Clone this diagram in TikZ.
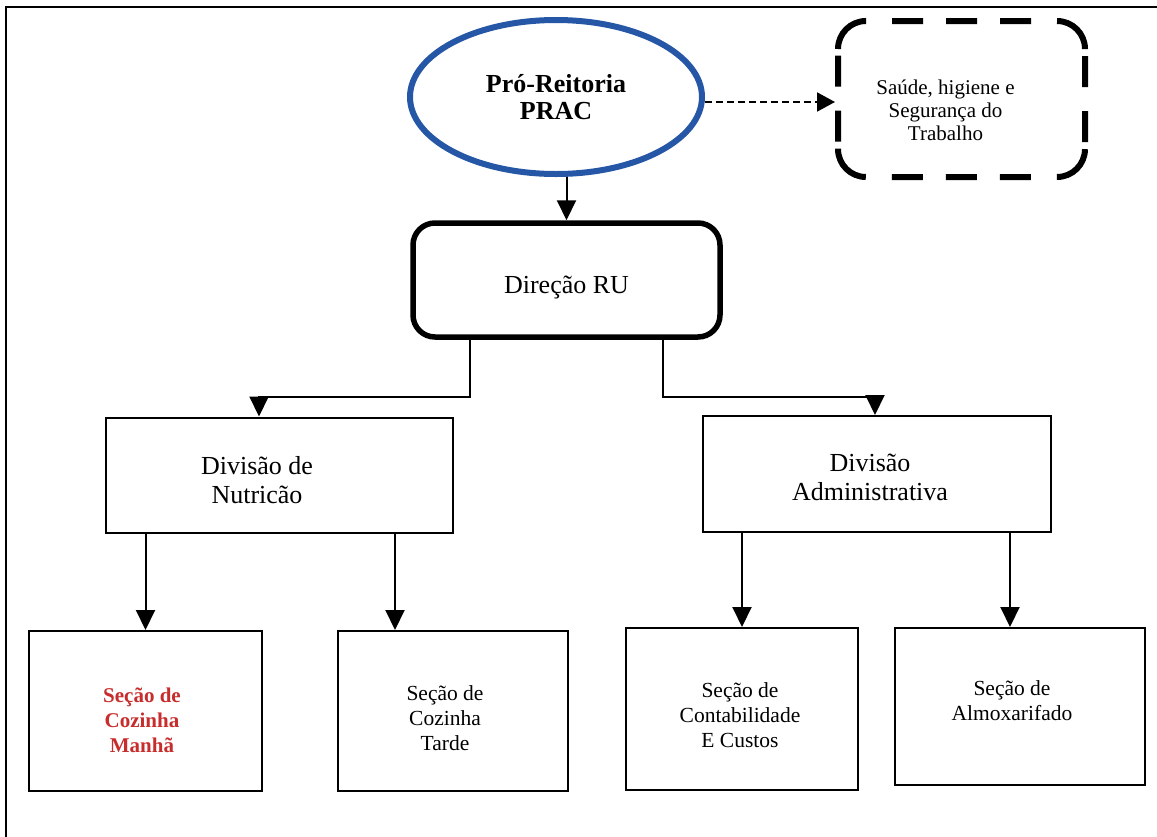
\documentclass[tikz,border=0pt]{standalone}
\usepackage{fontspec}
\setmainfont{Liberation Serif}
\usetikzlibrary{arrows.meta,shapes.geometric}
\definecolor{prablue}{RGB}{38,86,166}
\definecolor{secred}{RGB}{200,45,45}
\begin{document}
\begin{tikzpicture}[x=1pt,y=-1pt,
  box/.style={draw, line width=2pt, inner sep=0pt},
  arr/.style={line width=2pt, -{Triangle[width=19pt,length=20pt]}},
  dasharr/.style={line width=2pt, dash pattern=on 7pt off 4pt, -{Triangle[width=19pt,length=18pt]}},
  dashbox/.style={line width=6pt,
    dash pattern=on 44pt off 26pt on 31pt off 23pt on 31pt off 23pt on 31pt off 26pt
                 on 44pt off 7pt on 31pt off 24pt on 31pt off 7pt},
  lbl/.style={align=center, inner sep=0pt},
  big/.style={font=\fontsize{26}{29}\selectfont},
  small/.style={font=\fontsize{21.5}{25}\selectfont},
]
\useasboundingbox (0,0) rectangle (1157,836);

% page frame (only its left and top edges fall on the page)
\draw[line width=2.5pt] (6,860) -- (6,7) -- (1180,7);

% top level
\node[ellipse, draw=prablue, line width=6pt, minimum width=292pt, minimum height=154pt,
      inner sep=0pt, align=center, font=\bfseries\fontsize{26}{27}\selectfont]
      (pra) at (556,97) {Pró-Reitoria\\PRAC};

\node[minimum width=247pt, minimum height=156pt, inner sep=0pt, outer sep=0pt,
      label={[lbl, font=\fontsize{21}{23}\selectfont, xshift=-16pt, yshift=-11pt]center:{Saúde, higiene e\\Segurança do\\Trabalho}}]
      (saude) at (961.5,99) {};
% dashed border: solid corner arcs, dashed straight sides
\draw[dashbox] ([yshift=-28pt]saude.north west)
   arc[start angle=180, end angle=270, radius=28] -- ([xshift=-28pt]saude.north east)
   arc[start angle=270, end angle=360, radius=28] -- ([yshift=28pt]saude.south east)
   arc[start angle=0, end angle=90, radius=28] -- ([xshift=28pt]saude.south west)
   arc[start angle=90, end angle=180, radius=28] -- cycle;

\node[draw, line width=5.5pt, rounded corners=22pt, minimum width=307pt, minimum height=114pt,
      inner sep=0pt, label={[lbl, big, yshift=-8pt]center:Direção RU}]
      (dir) at (566.5,280) {};

% divisions
\node[box, minimum width=347pt, minimum height=115pt,
      label={[lbl, big, xshift=-22pt, yshift=-5.5pt]center:{Divisão de\\Nutricão}}]
      (nut) at (279,475) {};
\node[box, minimum width=348pt, minimum height=116pt,
      label={[lbl, big, xshift=-7pt, yshift=-3pt]center:{Divisão\\Administrativa}}]
      (adm) at (877,474) {};

% sections
\node[box, minimum width=233pt, minimum height=160pt,
      label={[lbl, text=secred, font=\bfseries\fontsize{21}{25}\selectfont, xshift=-3.5pt, yshift=-9pt]center:{Seção de\\Cozinha\\Manhã}}]
      (man) at (145.5,711) {};
\node[box, minimum width=230pt, minimum height=160pt,
      label={[lbl, small, xshift=-8pt, yshift=-7pt]center:{Seção de\\Cozinha\\Tarde}}]
      (tar) at (453,711) {};
\node[box, minimum width=232pt, minimum height=162pt,
      label={[lbl, small, xshift=-2pt, yshift=-6pt]center:{Seção de\\Contabilidade\\E Custos}}]
      (con) at (742,709) {};
\node[box, minimum width=250pt, minimum height=157pt,
      label={[lbl, small, xshift=-8pt, yshift=5.5pt]center:{Seção de\\Almoxarifado}}]
      (alm) at (1020,706.5) {};

% connectors
\draw[dasharr] ([yshift=-5pt]pra.east) -- ([yshift=-5pt,xshift=-3pt]pra.east -| saude.west);
\draw[arr] (pra.south -| dir.north) -- (dir.north);
\draw[arr] ([xshift=-96.5pt]dir.south) -- ++(0,57) -| ([xshift=-20pt]nut.north);
\draw[arr] ([xshift=96.5pt]dir.south) -- ++(0,57) -| ([xshift=-2pt]adm.north);
\draw[arr] (man.north |- nut.south) -- (man.north);
\draw[arr] ([xshift=116pt]nut.south) -- ([xshift=116pt]nut.south |- tar.north);
\draw[arr] (con.north |- adm.south) -- (con.north);
\draw[arr] ([xshift=133pt]adm.south) -- ([xshift=133pt]adm.south |- alm.north);
\end{tikzpicture}
\end{document}
